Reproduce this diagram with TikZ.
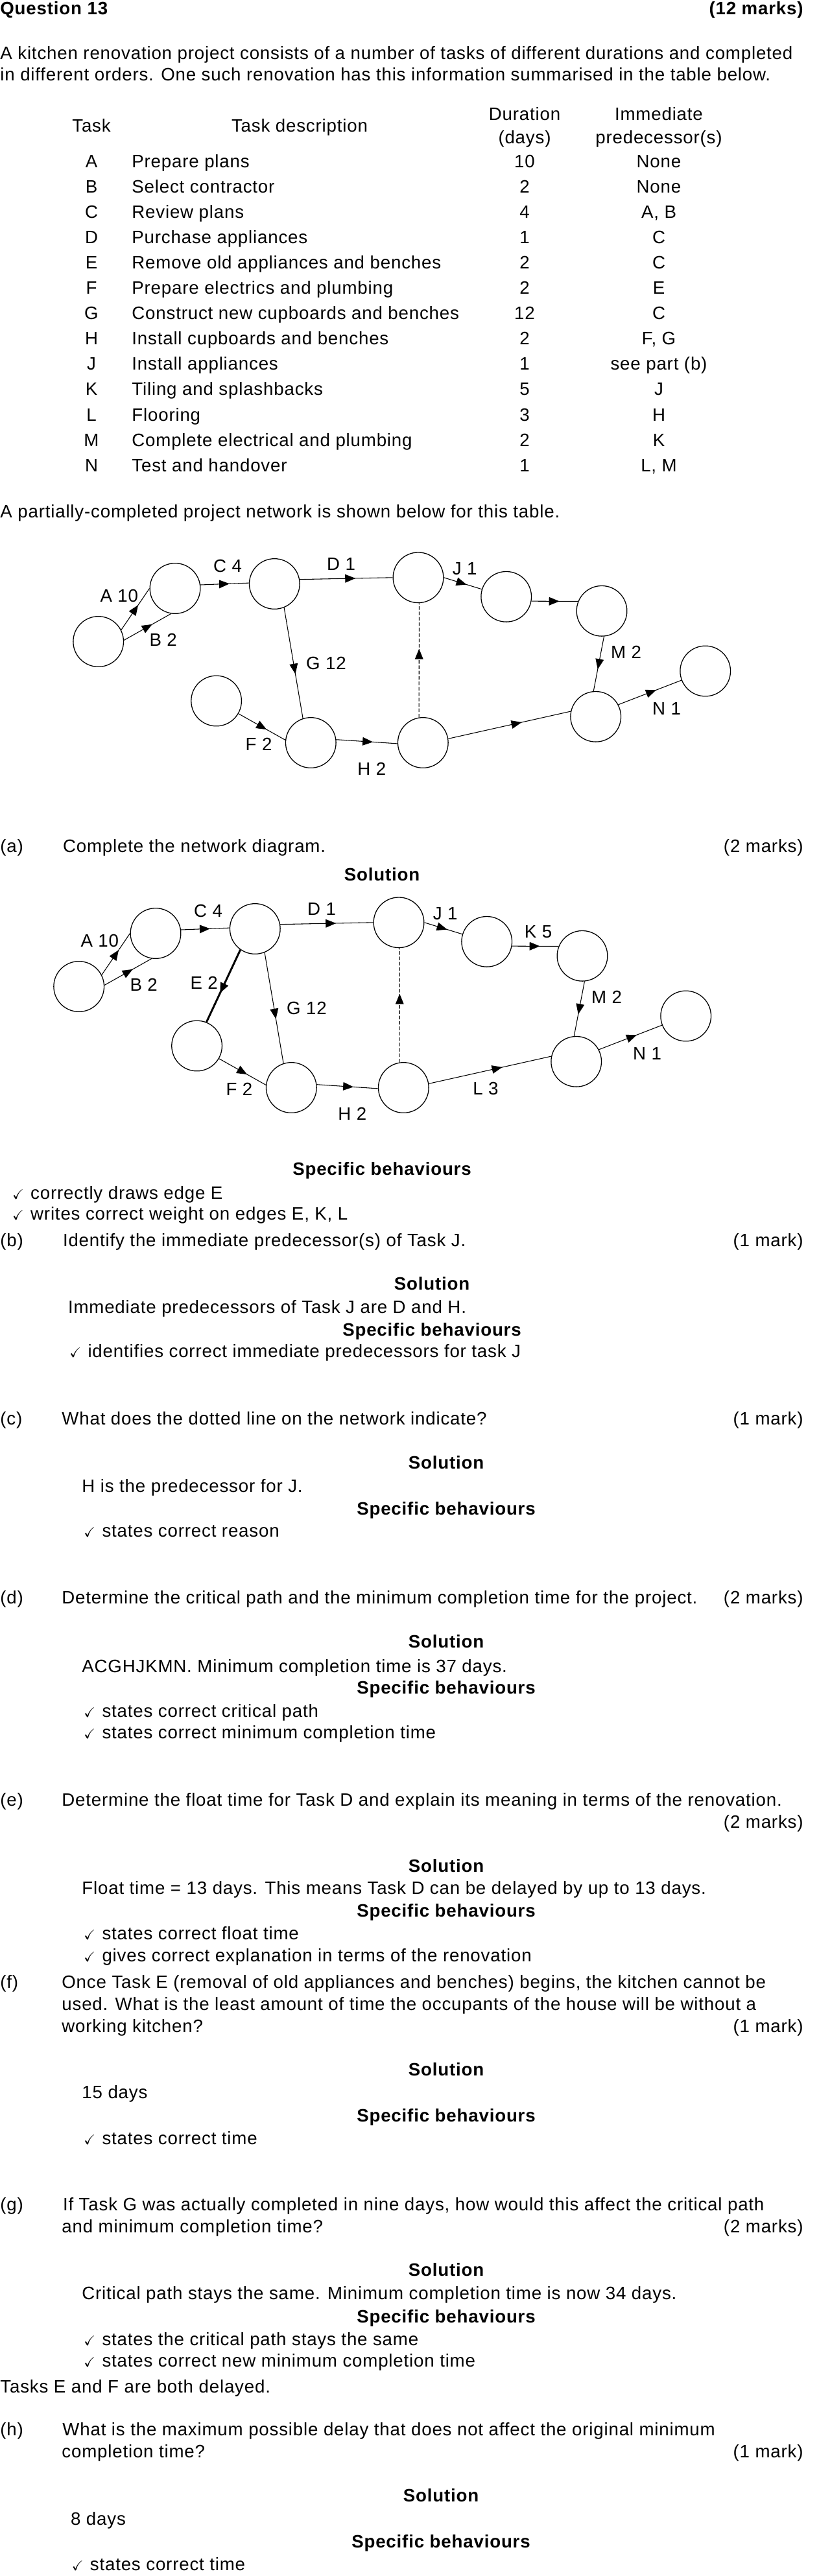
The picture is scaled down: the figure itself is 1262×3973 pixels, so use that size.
\documentclass[tikz,border=0pt]{standalone}
\usepackage{fontspec}
\setmainfont{Liberation Sans}[LetterSpace=3]
\usepackage{amssymb}
\usetikzlibrary{arrows.meta,decorations.markings}
\def\tick{\makebox[13.2pt][l]{\fontsize{10}{10}\selectfont$\checkmark$}}

\tikzset{
	txt/.style={anchor=base west, inner sep=0pt, font=\fontsize{13}{15}\selectfont},
	rtxt/.style={txt, anchor=base east},
	ctxt/.style={txt, anchor=base},
	head/.style={ctxt, font=\fontsize{13}{15}\selectfont\bfseries},
	event/.style={circle, draw, line width=0.6pt, minimum size=36.5pt, inner sep=0pt},
	weight/.style={font=\fontsize{13}{15}\selectfont, inner sep=0pt},
	task/.style={line width=0.5pt, postaction={decorate},
		decoration={markings, mark=at position 0.6 with {\arrow{Triangle[length=7.5pt,width=6pt]}}}},
	dummy/.style={task, dash pattern=on 2.6pt off 1.3pt}
}

% the network as printed in the question
\newcommand{\kitchennet}{
	\node[event] (e1) at (151.7, 989.5) {};
	\node[event] (e2) at (270, 907.5) {};
	\node[event] (e3) at (423.3, 900.5) {};
	\node[event] (e4) at (645, 890.8) {};
	\node[event] (e5) at (780.7, 920.3) {};
	\node[event] (e6) at (928, 942.3) {};
	\node[event] (e7) at (1087.7, 1035) {};
	\node[event] (e8) at (918.7, 1105.3) {};
	\node[event] (e9) at (333.6, 1081) {};
	\node[event] (e10) at (479.3, 1145.5) {};
	\node[event] (e11) at (652.3, 1145.5) {};
	
	\draw[task] (e1.27) -- (e2.180);
	\draw[task] (e1.3) -- (e2.261);
	\draw[task] (e2.8) -- (e3.178);
	\draw[task] (e3.10) -- (e4.180);
	\draw[task] (e4.0) -- (e5.163);
	\draw[task] (e5.-10) -- (e6.158);
	\draw[task] (e6.-85) -- (e8.95);
	\draw[task] (e8.28) -- (e7.201);
	\draw[task] (e3.-68) -- (e10.108);
	\draw[task] (e9.-30) -- (e10.174);
	\draw[task] (e10.7) -- (e11.182);
	\draw[task] (e11.9) -- (e8.168);
	\draw[dummy] (e11.99) -- (e4.-88);
	
	\node[weight] (wA) at (183.8, 919) {A 10};
	\node[weight] (wB) at (251.7, 987) {B 2};
	\node[weight] (wC) at (351, 872.5) {C 4};
	\node[weight] (wD) at (526, 870) {D 1};
	\node[weight] (wJ) at (716.7, 877.6) {J 1};
	\node[weight] (wM) at (965.6, 1005.8) {M 2};
	\node[weight] (wN) at (1028, 1092.5) {N 1};
	\node[weight] (wG) at (503, 1023.4) {G 12};
	\node[weight] (wF) at (399, 1147.4) {F 2};
	\node[weight] (wH) at (573.4, 1186) {H 2};
}

\begin{document}
\begin{tikzpicture}[x=0.47pt, y=-0.47pt]
		%%%%% START %%%%%
		
		\fill[white] (0, 0) rectangle (1262, 3973);
		\useasboundingbox (0, 0) rectangle (1262, 3973);
		
		\node[txt, font=\fontsize{13}{15}\selectfont\bfseries] (qno) at (0, 22) {Question 13};
		\node[rtxt, font=\fontsize{13}{15}\selectfont\bfseries] (qmarks) at (1239, 22) {(12 marks)};
		\node[txt] (intro1) at (0, 91) {A kitchen renovation project consists of a number of tasks of different durations and completed};
		\node[txt] (intro2) at (0, 124) {in different orders. One such renovation has this information summarised in the table below.};
		
		\node[ctxt] (hTask) at (141, 203.5) {Task};
		\node[ctxt] (hDesc) at (462, 203.5) {Task description};
		\node[ctxt] (hDur1) at (809, 185.5) {Duration};
		\node[ctxt] (hDur2) at (809, 221.5) {(days)};
		\node[ctxt] (hPre1) at (1016, 185.5) {Immediate};
		\node[ctxt] (hPre2) at (1016, 221.5) {predecessor(s)};
		
		\node[ctxt] (tA) at (141, 258) {A};
		\node[txt] (dA) at (203, 258) {Prepare plans};
		\node[ctxt] (nA) at (809, 258) {10};
		\node[ctxt] (pA) at (1016, 258) {None};
		\node[ctxt] (tB) at (141, 297.1) {B};
		\node[txt] (dB) at (203, 297.1) {Select contractor};
		\node[ctxt] (nB) at (809, 297.1) {2};
		\node[ctxt] (pB) at (1016, 297.1) {None};
		\node[ctxt] (tC) at (141, 336.2) {C};
		\node[txt] (dC) at (203, 336.2) {Review plans};
		\node[ctxt] (nC) at (809, 336.2) {4};
		\node[ctxt] (pC) at (1016, 336.2) {A, B};
		\node[ctxt] (tD) at (141, 375.3) {D};
		\node[txt] (dD) at (203, 375.3) {Purchase appliances};
		\node[ctxt] (nD) at (809, 375.3) {1};
		\node[ctxt] (pD) at (1016, 375.3) {C};
		\node[ctxt] (tE) at (141, 414.4) {E};
		\node[txt] (dE) at (203, 414.4) {Remove old appliances and benches};
		\node[ctxt] (nE) at (809, 414.4) {2};
		\node[ctxt] (pE) at (1016, 414.4) {C};
		\node[ctxt] (tF) at (141, 453.5) {F};
		\node[txt] (dF) at (203, 453.5) {Prepare electrics and plumbing};
		\node[ctxt] (nF) at (809, 453.5) {2};
		\node[ctxt] (pF) at (1016, 453.5) {E};
		\node[ctxt] (tG) at (141, 492.6) {G};
		\node[txt] (dG) at (203, 492.6) {Construct new cupboards and benches};
		\node[ctxt] (nG) at (809, 492.6) {12};
		\node[ctxt] (pG) at (1016, 492.6) {C};
		\node[ctxt] (tH) at (141, 531.7) {H};
		\node[txt] (dH) at (203, 531.7) {Install cupboards and benches};
		\node[ctxt] (nH) at (809, 531.7) {2};
		\node[ctxt] (pH) at (1016, 531.7) {F, G};
		\node[ctxt] (tJ) at (141, 570.8) {J};
		\node[txt] (dJ) at (203, 570.8) {Install appliances};
		\node[ctxt] (nJ) at (809, 570.8) {1};
		\node[ctxt] (pJ) at (1016, 570.8) {see part (b)};
		\node[ctxt] (tK) at (141, 609.9) {K};
		\node[txt] (dK) at (203, 609.9) {Tiling and splashbacks};
		\node[ctxt] (nK) at (809, 609.9) {5};
		\node[ctxt] (pK) at (1016, 609.9) {J};
		\node[ctxt] (tL) at (141, 649) {L};
		\node[txt] (dL) at (203, 649) {Flooring};
		\node[ctxt] (nL) at (809, 649) {3};
		\node[ctxt] (pL) at (1016, 649) {H};
		\node[ctxt] (tM) at (141, 688.1) {M};
		\node[txt] (dM) at (203, 688.1) {Complete electrical and plumbing};
		\node[ctxt] (nM) at (809, 688.1) {2};
		\node[ctxt] (pM) at (1016, 688.1) {K};
		\node[ctxt] (tN) at (141, 727.2) {N};
		\node[txt] (dN) at (203, 727.2) {Test and handover};
		\node[ctxt] (nN) at (809, 727.2) {1};
		\node[ctxt] (pN) at (1016, 727.2) {L, M};
		
		\node[txt] (netintro) at (0, 798.5) {A partially-completed project network is shown below for this table.};
		
		\begin{scope}[name prefix=q-]
			\kitchennet
		\end{scope}
		
		% part (a)
		\node[txt] (aLbl) at (0, 1314.5) {(a)};
		\node[txt] (aQ) at (96.6, 1314.5) {Complete the network diagram.};
		\node[rtxt] (aM) at (1239, 1314.5) {(2 marks)};
		\node[head] (aSol) at (589, 1358) {Solution};
		
		\begin{scope}[shift={(-30, 532)}, name prefix=s-]
			\kitchennet
			\draw[task, line width=1.4pt] (e3.235) -- (e9.68);
			\node[weight] (wE) at (344.7, 984) {E 2};
			\node[weight] (wK) at (860, 905.6) {K 5};
			\node[weight] (wL) at (779, 1147) {L 3};
		\end{scope}
		
		\node[head] (aSB) at (589, 1812.5) {Specific behaviours};
		\node[txt] (aS1) at (18.7, 1849) {\tick correctly draws edge E};
		\node[txt] (aS2) at (18.7, 1881.5) {\tick writes correct weight on edges E, K, L};
		
		% part (b)
		\node[txt] (bLbl) at (0, 1922) {(b)};
		\node[txt] (bQ) at (96.6, 1922) {Identify the immediate predecessor(s) of Task J.};
		\node[rtxt] (bM) at (1239, 1922) {(1 mark)};
		\node[head] (bSol) at (666, 1989) {Solution};
		\node[txt] (bAns) at (104.6, 2025.5) {Immediate predecessors of Task J are D and H.};
		\node[head] (bSB) at (666, 2060.5) {Specific behaviours};
		\node[txt] (bS1) at (107, 2093.5) {\tick identifies correct immediate predecessors for task J};
		
		% part (c)
		\node[txt] (cLbl) at (0, 2197.5) {(c)};
		\node[txt] (cQ) at (95, 2197.5) {What does the dotted line on the network indicate?};
		\node[rtxt] (cM) at (1239, 2197.5) {(1 mark)};
		\node[head] (cSol) at (688, 2265.5) {Solution};
		\node[txt] (cAns) at (126, 2301.5) {H is the predecessor for J.};
		\node[head] (cSB) at (688, 2336.5) {Specific behaviours};
		\node[txt] (cS1) at (129, 2370.5) {\tick states correct reason};
		
		% part (d)
		\node[txt] (dLbl) at (0, 2473.5) {(d)};
		\node[txt] (dQ) at (95, 2473.5) {Determine the critical path and the minimum completion time for the project.};
		\node[rtxt] (dMk) at (1239, 2473.5) {(2 marks)};
		\node[head] (dSol) at (688, 2541.5) {Solution};
		\node[txt] (dAns) at (126, 2579) {ACGHJKMN. Minimum completion time is 37 days.};
		\node[head] (dSB) at (688, 2612.5) {Specific behaviours};
		\node[txt] (dS1) at (129, 2648.5) {\tick states correct critical path};
		\node[txt] (dS2) at (129, 2681.5) {\tick states correct minimum completion time};
		
		% part (e)
		\node[txt] (eLbl) at (0, 2785.5) {(e)};
		\node[txt] (eQ) at (95, 2785.5) {Determine the float time for Task D and explain its meaning in terms of the renovation.};
		\node[rtxt] (eMk) at (1239, 2819) {(2 marks)};
		\node[head] (eSol) at (688, 2887.5) {Solution};
		\node[txt] (eAns) at (126, 2921) {Float time = 13 days. This means Task D can be delayed by up to 13 days.};
		\node[head] (eSB) at (688, 2956.5) {Specific behaviours};
		\node[txt] (eS1) at (129, 2991.5) {\tick states correct float time};
		\node[txt] (eS2) at (129, 3025.5) {\tick gives correct explanation in terms of the renovation};
		
		% part (f)
		\node[txt] (fLbl) at (0, 3066) {(f)};
		\node[txt] (fQ1) at (95, 3066) {Once Task E (removal of old appliances and benches) begins, the kitchen cannot be};
		\node[txt] (fQ2) at (95, 3100.5) {used. What is the least amount of time the occupants of the house will be without a};
		\node[txt] (fQ3) at (95, 3134) {working kitchen?};
		\node[rtxt] (fMk) at (1239, 3134) {(1 mark)};
		\node[head] (fSol) at (688, 3201) {Solution};
		\node[txt] (fAns) at (126, 3236.5) {15 days};
		\node[head] (fSB) at (688, 3272) {Specific behaviours};
		\node[txt] (fS1) at (129, 3307) {\tick states correct time};
		
		% part (g)
		\node[txt] (gLbl) at (0, 3409.5) {(g)};
		\node[txt] (gQ1) at (96.6, 3409.5) {If Task G was actually completed in nine days, how would this affect the critical path};
		\node[txt] (gQ2) at (95, 3443) {and minimum completion time?};
		\node[rtxt] (gMk) at (1239, 3443) {(2 marks)};
		\node[head] (gSol) at (688, 3510.5) {Solution};
		\node[txt] (gAns) at (126, 3546.5) {Critical path stays the same. Minimum completion time is now 34 days.};
		\node[head] (gSB) at (688, 3582.5) {Specific behaviours};
		\node[txt] (gS1) at (129, 3617.5) {\tick states the critical path stays the same};
		\node[txt] (gS2) at (129, 3650.5) {\tick states correct new minimum completion time};
		
		\node[txt] (hIntro) at (0, 3690.5) {Tasks E and F are both delayed.};
		
		% part (h)
		\node[txt] (hLbl) at (0, 3756.5) {(h)};
		\node[txt] (hQ1) at (96, 3756.5) {What is the maximum possible delay that does not affect the original minimum};
		\node[txt] (hQ2) at (95, 3790.5) {completion time?};
		\node[rtxt] (hMk) at (1239, 3790.5) {(1 mark)};
		\node[head] (hSol) at (680, 3858.5) {Solution};
		\node[txt] (hAns) at (108.7, 3894.5) {8 days};
		\node[head] (hSB) at (680, 3929.5) {Specific behaviours};
		\node[txt] (hS1) at (110.4, 3964.5) {\tick states correct time};
		
		%%%%% END %%%%%
\end{tikzpicture}
\end{document}
